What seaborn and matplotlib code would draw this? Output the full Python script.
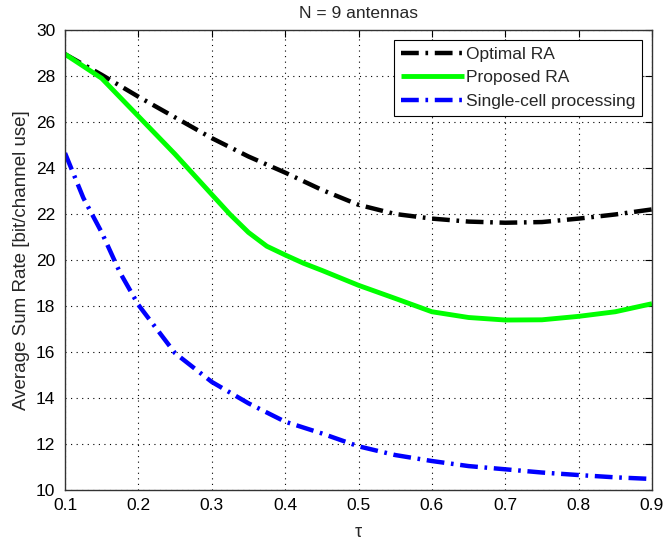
import numpy as np
import pandas as pd
import matplotlib
matplotlib.use("Agg")
import matplotlib.pyplot as plt
import seaborn as sns

tau_opt = [0.10, 0.15, 0.20, 0.25, 0.30, 0.35, 0.40, 0.45, 0.50, 0.55, 0.60, 0.65, 0.70, 0.75, 0.80, 0.85, 0.90]
optimal = [28.95, 28.05, 27.1, 26.2, 25.3, 24.5, 23.8, 23.05, 22.4, 22.0, 21.8, 21.67, 21.62, 21.65, 21.8, 21.98, 22.2]

tau_prop = [0.10, 0.15, 0.20, 0.25, 0.30, 0.325, 0.35, 0.375, 0.40, 0.425, 0.45, 0.50, 0.55, 0.60, 0.65, 0.70, 0.75, 0.80, 0.85, 0.90]
proposed = [28.95, 27.9, 26.25, 24.6, 22.85, 21.98, 21.2, 20.6, 20.22, 19.86, 19.55, 18.9, 18.33, 17.75, 17.5, 17.39, 17.4, 17.55, 17.75, 18.1]

tau_single = [0.10, 0.125, 0.15, 0.175, 0.20, 0.25, 0.30, 0.35, 0.40, 0.45, 0.50, 0.55, 0.60, 0.65, 0.70, 0.75, 0.80, 0.85, 0.90]
single = [24.65, 22.7, 21.2, 19.45, 18.05, 15.95, 14.7, 13.77, 12.97, 12.46, 11.9, 11.52, 11.26, 11.04, 10.9, 10.76, 10.65, 10.55, 10.48]

labels = ["Optimal RA", "Proposed RA", "Single-cell processing"]
xticks = [0.1, 0.2, 0.3, 0.4, 0.5, 0.6, 0.7, 0.8, 0.9]
yticks = [10, 12, 14, 16, 18, 20, 22, 24, 26, 28, 30]

df = pd.DataFrame({
    "tau": tau_opt + tau_prop + tau_single,
    "rate": optimal + proposed + single,
    "series": [labels[0]] * len(tau_opt) + [labels[1]] * len(tau_prop) + [labels[2]] * len(tau_single),
})

sns.set_style("white")
plt.rcParams["font.family"] = ["Liberation Sans", "DejaVu Sans"]

fig = plt.figure(figsize=(6.64, 5.41), dpi=100)
ax = fig.add_axes([65 / 664, 1 - 490 / 541, (652 - 65) / 664, (490 - 30) / 541])

palette = {labels[0]: "black", labels[1]: "#00ff00", labels[2]: "blue"}
sns.lineplot(data=df, x="tau", y="rate", hue="series", hue_order=labels,
             palette=palette, ax=ax, legend=False, sort=True)

styles = [dict(ls=(0, (4, 1.5, 0.6, 1.5)), lw=3.2),
          dict(ls="-", lw=3.5),
          dict(ls=(0, (4, 1.5, 0.6, 1.5)), lw=3.2)]
for line, st in zip(ax.get_lines(), styles):
    line.set_linestyle(st["ls"])
    line.set_linewidth(st["lw"])
    line.set_solid_capstyle("butt")
    line.set_dash_capstyle("butt")
    line.set_solid_joinstyle("round")

ax.set_xlim(0.1, 0.9)
ax.set_ylim(10, 30)
ax.set_xticks(xticks)
ax.set_yticks(yticks)
ax.set_xticklabels([f"{v:.1f}" for v in xticks], fontsize=12.5)
ax.set_yticklabels([str(v) for v in yticks], fontsize=12.5)
ax.tick_params(direction="in", top=True, right=True, length=5, width=0.8, colors="black")
ax.tick_params(axis="x", pad=6)
ax.tick_params(axis="y", pad=7)
ax.grid(True, linestyle=(0, (1, 4)), color="black", linewidth=0.8)
for s in ax.spines.values():
    s.set_color("#333333")
    s.set_linewidth(1.0)

ax.set_xlabel("τ", fontsize=13, labelpad=8)
ax.set_ylabel("Average Sum Rate [bit/channel use]", fontsize=13.5, labelpad=4)
ax.set_title("N = 9 antennas", fontsize=12.5, pad=9)

leg = ax.legend(ax.get_lines(), labels, loc="upper right", fontsize=12.5,
                frameon=True, fancybox=False, edgecolor="black", framealpha=1,
                borderaxespad=0.55, handlelength=3.6, handletextpad=0.15,
                labelspacing=0.5, borderpad=0.4)
leg.get_frame().set_linewidth(0.8)

fig.savefig("out.png", dpi=100, facecolor="white")
